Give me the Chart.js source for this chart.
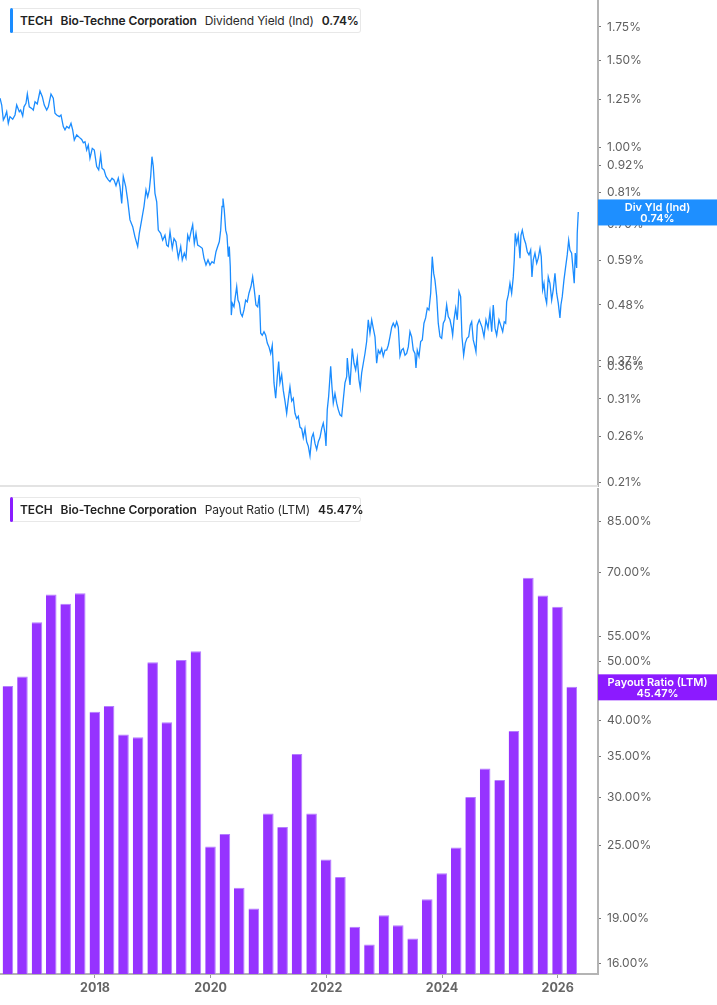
<!DOCTYPE html>
<html>
<head>
<meta charset="utf-8">
<script src="https://cdn.jsdelivr.net/npm/chart.js@4.4.1/dist/chart.umd.min.js"></script>
<style>
  html, body { margin: 0; padding: 0; background: #fff; }
  body { width: 717px; height: 1005px; position: relative; overflow: hidden; font-family: Inter, "Noto Sans", sans-serif; }
  .panel { position: absolute; left: 0; width: 717px; }
  #topPanel { top: 0; height: 487px; }
  #bottomPanel { top: 488px; height: 517px; }
  .sep { position: absolute; left: 0; top: 485px; width: 598px; height: 2px; background: #e3e3e3; z-index: 2; }
  .legend {
    position: absolute; left: 10px; height: 25px; width: 351px; box-sizing: border-box;
    border: 1px solid #e8e8e8; border-left: none; border-radius: 3px; background: #fff;
    display: flex; align-items: center; gap: 8px; padding-left: 10px;
    font-size: 12px; letter-spacing: -0.1px; color: #222; white-space: nowrap; z-index: 3;
  }
  .legend::before {
    content: ""; position: absolute; left: 0; top: -1px; bottom: -1px; width: 3px; border-radius: 2px;
    background: var(--accent);
  }
  .legend b { font-weight: 600; }
  .legend span { font-weight: 400; color: #2a2a2a; }
</style>
</head>
<body>
<div class="panel" id="topPanel"><canvas id="yieldChart"></canvas></div>
<div class="sep"></div>
<div class="panel" id="bottomPanel"><canvas id="payoutChart"></canvas></div>
<div class="legend" style="top:8px; --accent:#1a8cff"><b>TECH</b><b>Bio-Techne Corporation</b><span>Dividend Yield (Ind)</span><b>0.74%</b></div>
<div class="legend" style="top:497px; --accent:#8a1cff"><b>TECH</b><b>Bio-Techne Corporation</b><span>Payout Ratio (LTM)</span><b>45.47%</b></div>
<script>
// Dividend yield (Ind), % (decimal years)
const yieldDates = [
  2016.358, 2016.387, 2016.415, 2016.444, 2016.473, 2016.501, 2016.530, 2016.577, 2016.617, 2016.646,
  2016.691, 2016.715, 2016.750, 2016.772, 2016.807, 2016.830, 2016.864, 2016.906, 2016.933, 2016.963,
  2017.002, 2017.049, 2017.089, 2017.123, 2017.165, 2017.193, 2017.239, 2017.279, 2017.308, 2017.338,
  2017.383, 2017.412, 2017.452, 2017.481, 2017.511, 2017.550, 2017.585, 2017.614, 2017.642, 2017.684,
  2017.729, 2017.770, 2017.798, 2017.827, 2017.856, 2017.884, 2017.913, 2017.953, 2017.988, 2018.029,
  2018.064, 2018.098, 2018.121, 2018.156, 2018.190, 2018.230, 2018.259, 2018.294, 2018.328, 2018.363,
  2018.403, 2018.432, 2018.462, 2018.489, 2018.531, 2018.565, 2018.605, 2018.652, 2018.691, 2018.738,
  2018.766, 2018.807, 2018.847, 2018.882, 2018.911, 2018.939, 2018.963, 2018.985, 2019.008, 2019.037,
  2019.067, 2019.094, 2019.136, 2019.170, 2019.210, 2019.240, 2019.267, 2019.297, 2019.336, 2019.366,
  2019.400, 2019.440, 2019.482, 2019.509, 2019.544, 2019.573, 2019.603, 2019.630, 2019.660, 2019.689,
  2019.717, 2019.746, 2019.775, 2019.815, 2019.855, 2019.884, 2019.919, 2019.954, 2019.988, 2020.023,
  2020.057, 2020.092, 2020.121, 2020.149, 2020.173, 2020.196, 2020.213, 2020.235, 2020.260, 2020.282,
  2020.305, 2020.322, 2020.339, 2020.357, 2020.374, 2020.403, 2020.426, 2020.450, 2020.472, 2020.495,
  2020.519, 2020.547, 2020.576, 2020.605, 2020.633, 2020.662, 2020.697, 2020.726, 2020.754, 2020.783,
  2020.813, 2020.841, 2020.865, 2020.892, 2020.922, 2020.951, 2020.979, 2021.008, 2021.038, 2021.065,
  2021.095, 2021.124, 2021.152, 2021.176, 2021.198, 2021.228, 2021.255, 2021.285, 2021.314, 2021.342,
  2021.371, 2021.401, 2021.428, 2021.458, 2021.487, 2021.515, 2021.544, 2021.574, 2021.601, 2021.631,
  2021.660, 2021.688, 2021.717, 2021.747, 2021.774, 2021.804, 2021.833, 2021.861, 2021.890, 2021.919,
  2021.947, 2021.977, 2021.994, 2022.016, 2022.040, 2022.075, 2022.097, 2022.120, 2022.149, 2022.179,
  2022.206, 2022.236, 2022.265, 2022.293, 2022.322, 2022.352, 2022.362, 2022.386, 2022.409, 2022.426,
  2022.448, 2022.478, 2022.507, 2022.535, 2022.564, 2022.587, 2022.611, 2022.639, 2022.668, 2022.697,
  2022.725, 2022.754, 2022.784, 2022.811, 2022.841, 2022.870, 2022.898, 2022.927, 2022.957, 2022.984,
  2023.014, 2023.043, 2023.071, 2023.100, 2023.130, 2023.157, 2023.187, 2023.216, 2023.244, 2023.273,
  2023.302, 2023.330, 2023.360, 2023.389, 2023.417, 2023.446, 2023.475, 2023.503, 2023.532, 2023.550,
  2023.572, 2023.602, 2023.631, 2023.659, 2023.688, 2023.717, 2023.745, 2023.774, 2023.804, 2023.831,
  2023.856, 2023.878, 2023.908, 2023.935, 2023.965, 2023.994, 2024.022, 2024.051, 2024.080, 2024.108,
  2024.138, 2024.167, 2024.184, 2024.207, 2024.236, 2024.264, 2024.293, 2024.322, 2024.345, 2024.374,
  2024.402, 2024.431, 2024.461, 2024.488, 2024.513, 2024.540, 2024.570, 2024.587, 2024.610, 2024.644,
  2024.691, 2024.726, 2024.760, 2024.795, 2024.829, 2024.859, 2024.886, 2024.916, 2024.945, 2024.985,
  2025.014, 2025.049, 2025.076, 2025.101, 2025.118, 2025.146, 2025.175, 2025.204, 2025.232, 2025.249,
  2025.266, 2025.291, 2025.318, 2025.348, 2025.365, 2025.388, 2025.417, 2025.446, 2025.474, 2025.504,
  2025.533, 2025.555, 2025.578, 2025.607, 2025.637, 2025.664, 2025.694, 2025.716, 2025.740, 2025.763,
  2025.785, 2025.809, 2025.837, 2025.866, 2025.896, 2025.923, 2025.953, 2025.982, 2026.010, 2026.039,
  2026.056, 2026.079, 2026.108, 2026.138, 2026.165, 2026.190, 2026.212, 2026.241, 2026.269, 2026.286,
  2026.304, 2026.328, 2026.338, 2026.356
];
const yieldValues = [
  1.256, 1.217, 1.135, 1.153, 1.180, 1.118, 1.153, 1.139, 1.162, 1.217,
  1.180, 1.189, 1.157, 1.207, 1.227, 1.281, 1.207, 1.198, 1.189, 1.236,
  1.223, 1.299, 1.265, 1.217, 1.189, 1.207, 1.281, 1.256, 1.171, 1.162,
  1.153, 1.162, 1.101, 1.084, 1.101, 1.093, 1.118, 1.084, 1.034, 1.059,
  1.047, 1.037, 1.021, 1.026, 0.987, 1.010, 0.950, 0.995, 0.987, 0.914,
  0.900, 0.964, 0.907, 0.900, 0.873, 0.859, 0.852, 0.866, 0.859, 0.836,
  0.866, 0.833, 0.770, 0.873, 0.833, 0.782, 0.713, 0.691, 0.659, 0.630,
  0.670, 0.713, 0.759, 0.820, 0.794, 0.820, 0.873, 0.957, 0.914, 0.807,
  0.776, 0.680, 0.670, 0.649, 0.664, 0.634, 0.630, 0.675, 0.625, 0.654,
  0.644, 0.597, 0.630, 0.592, 0.611, 0.597, 0.664, 0.649, 0.675, 0.697,
  0.639, 0.670, 0.634, 0.630, 0.625, 0.597, 0.578, 0.592, 0.578, 0.587,
  0.583, 0.615, 0.630, 0.644, 0.680, 0.759, 0.788, 0.747, 0.680, 0.664,
  0.601, 0.630, 0.574, 0.458, 0.484, 0.476, 0.499, 0.523, 0.491, 0.484,
  0.462, 0.455, 0.469, 0.491, 0.487, 0.507, 0.523, 0.547, 0.515, 0.480,
  0.476, 0.503, 0.421, 0.417, 0.424, 0.417, 0.402, 0.395, 0.383, 0.398,
  0.334, 0.311, 0.344, 0.369, 0.334, 0.347, 0.323, 0.307, 0.290, 0.309,
  0.328, 0.307, 0.311, 0.290, 0.283, 0.286, 0.272, 0.270, 0.259, 0.270,
  0.254, 0.249, 0.238, 0.259, 0.264, 0.252, 0.245, 0.254, 0.259, 0.270,
  0.277, 0.264, 0.249, 0.295, 0.314, 0.361, 0.328, 0.304, 0.318, 0.304,
  0.295, 0.288, 0.286, 0.309, 0.334, 0.344, 0.375, 0.350, 0.331, 0.355,
  0.392, 0.366, 0.355, 0.375, 0.339, 0.326, 0.350, 0.366, 0.383, 0.405,
  0.448, 0.421, 0.448, 0.431, 0.414, 0.366, 0.389, 0.383, 0.392, 0.378,
  0.389, 0.389, 0.398, 0.414, 0.433, 0.441, 0.433, 0.444, 0.433, 0.378,
  0.389, 0.392, 0.380, 0.383, 0.395, 0.424, 0.414, 0.389, 0.383, 0.358,
  0.389, 0.378, 0.405, 0.408, 0.441, 0.452, 0.473, 0.469, 0.507, 0.601,
  0.556, 0.539, 0.499, 0.441, 0.414, 0.411, 0.441, 0.448, 0.480, 0.455,
  0.448, 0.431, 0.417, 0.448, 0.473, 0.448, 0.511, 0.499, 0.414, 0.380,
  0.402, 0.411, 0.414, 0.437, 0.444, 0.408, 0.395, 0.386, 0.437, 0.448,
  0.433, 0.414, 0.448, 0.431, 0.465, 0.424, 0.480, 0.431, 0.417, 0.448,
  0.437, 0.424, 0.444, 0.441, 0.487, 0.503, 0.531, 0.507, 0.547, 0.592,
  0.670, 0.639, 0.664, 0.597, 0.664, 0.680, 0.654, 0.639, 0.615, 0.606,
  0.620, 0.547, 0.592, 0.611, 0.583, 0.597, 0.625, 0.601, 0.515, 0.531,
  0.499, 0.484, 0.547, 0.531, 0.491, 0.515, 0.556, 0.507, 0.484, 0.452,
  0.480, 0.499, 0.539, 0.574, 0.606, 0.649, 0.620, 0.611, 0.560, 0.531,
  0.611, 0.570, 0.670, 0.74
];

// Payout ratio (LTM), %, quarterly
const payoutQuarters = [
  "2016-06-30", "2016-09-30", "2016-12-31", "2017-03-31", "2017-06-30", "2017-09-30", "2017-12-31", "2018-03-31",
  "2018-06-30", "2018-09-30", "2018-12-31", "2019-03-31", "2019-06-30", "2019-09-30", "2019-12-31", "2020-03-31",
  "2020-06-30", "2020-09-30", "2020-12-31", "2021-03-31", "2021-06-30", "2021-09-30", "2021-12-31", "2022-03-31",
  "2022-06-30", "2022-09-30", "2022-12-31", "2023-03-31", "2023-06-30", "2023-09-30", "2023-12-31", "2024-03-31",
  "2024-06-30", "2024-09-30", "2024-12-31", "2025-03-31", "2025-06-30", "2025-09-30", "2025-12-31", "2026-03-31"
];
const payoutValues = [
  45.6, 47.3, 58.0, 64.4, 62.2, 64.7, 41.4, 42.3,
  38.0, 37.6, 49.9, 39.8, 50.3, 52.0, 24.9, 26.1,
  21.3, 19.7, 28.2, 26.8, 35.3, 28.2, 23.7, 22.2,
  18.4, 17.2, 19.2, 18.5, 17.6, 20.4, 22.5, 24.8,
  30.0, 33.4, 32.0, 38.5, 68.6, 64.2, 61.5, 45.47
];

const yieldTicks = [0.21, 0.26, 0.31, 0.36, 0.37, 0.48, 0.59, 0.70, 0.81, 0.92, 1.00, 1.25, 1.50, 1.75];
const payoutTicks = [16, 19, 25, 30, 35, 40, 45, 50, 55, 70, 85];
const yearTicks = [2018, 2020, 2022, 2024, 2026];

function toYear(s) {
  const d = new Date(s + "T00:00:00Z");
  const y = d.getUTCFullYear();
  const start = Date.UTC(y, 0, 1), end = Date.UTC(y + 1, 0, 1);
  return y + (d.getTime() - start) / (end - start);
}

Chart.defaults.font.family = "Inter, 'Noto Sans', sans-serif";
Chart.defaults.animation = false;

const X_MIN = 2016.3575, X_MAX = 2026.697;

function valueBox(name, text, color) {
  return {
    id: name,
    afterDraw(chart) {
      const ds = chart.data.datasets[0].data;
      const last = ds[ds.length - 1].y;
      const y = chart.scales.y.getPixelForValue(last);
      const left = chart.chartArea.right;
      const w = chart.width - left;
      const ctx = chart.ctx;
      ctx.save();
      ctx.fillStyle = color;
      ctx.fillRect(left, y - 12.5, w, 26);
      ctx.fillStyle = "#fff";
      ctx.font = "600 11px Inter, sans-serif";
      ctx.textAlign = "center";
      ctx.textBaseline = "middle";
      ctx.fillText(text, left + w / 2, y - 4.5);
      ctx.fillText(last.toFixed(2) + "%", left + w / 2, y + 6.5);
      ctx.restore();
    }
  };
}

function rightAxis(min, max, ticks, digits) {
  return {
    type: "logarithmic",
    position: "right",
    min: min,
    max: max,
    afterBuildTicks: s => { s.ticks = ticks.map(v => ({ value: v })); },
    afterFit: s => { s.width = 119; s.paddingTop = 0; s.paddingBottom = 0; },
    border: { display: true, color: "#b4b4b4", width: 2 },
    grid: { drawOnChartArea: false, drawTicks: true, tickLength: 3, color: "#777", tickWidth: 1 },
    ticks: {
      autoSkip: false,
      padding: 6,
      color: "#5f5f5f",
      font: { size: 12 },
      callback: v => Number(v).toFixed(digits) + "%"
    }
  };
}

// Dividend yield line
new Chart(document.getElementById("yieldChart"), {
  type: "line",
  data: {
    datasets: [{
      data: yieldDates.map((d, i) => ({ x: d, y: yieldValues[i] })),
      borderColor: "#1a8cff",
      borderWidth: 1.3,
      pointRadius: 0,
      tension: 0,
      fill: false
    }]
  },
  options: {
    responsive: true,
    maintainAspectRatio: false,
    layout: { padding: 0 },
    plugins: { legend: { display: false }, tooltip: { enabled: false } },
    scales: {
      x: { type: "linear", min: X_MIN, max: X_MAX, display: false },
      y: rightAxis(0.2058, 1.984, yieldTicks, 2)
    }
  },
  plugins: [valueBox("yieldBox", "Div Yld (Ind)", "#1e8fff")]
});

// Payout ratio bars
new Chart(document.getElementById("payoutChart"), {
  type: "bar",
  data: {
    datasets: [{
      data: payoutQuarters.map((q, i) => ({ x: toYear(q), y: payoutValues[i] })),
      backgroundColor: "#9633ff",
      borderColor: "#b47dff",
      borderWidth: { top: 1, right: 1, left: 0, bottom: 0 },
      barPercentage: 0.74,
      categoryPercentage: 1
    }]
  },
  options: {
    responsive: true,
    maintainAspectRatio: false,
    layout: { padding: 0 },
    plugins: { legend: { display: false }, tooltip: { enabled: false } },
    scales: {
      x: {
        type: "linear",
        min: X_MIN,
        max: X_MAX,
        offset: false,
        afterBuildTicks: s => { s.ticks = yearTicks.map(v => ({ value: v })); },
        afterFit: s => { s.height = 31; s.paddingLeft = 0; s.paddingRight = 0; },
        border: { display: true, color: "#b4b4b4", width: 2 },
        grid: { offset: false, drawOnChartArea: false, drawTicks: true, tickLength: 4, color: "#999" },
        ticks: {
          autoSkip: false,
          maxRotation: 0,
          padding: 3,
          color: "#666",
          font: { size: 12.5, weight: "bold" },
          callback: v => String(v)
        }
      },
      y: rightAxis(15.39, 96.27, payoutTicks, 2)
    }
  },
  plugins: [valueBox("payoutBox", "Payout Ratio (LTM)", "#8c1aff")]
});
</script>
</body>
</html>
